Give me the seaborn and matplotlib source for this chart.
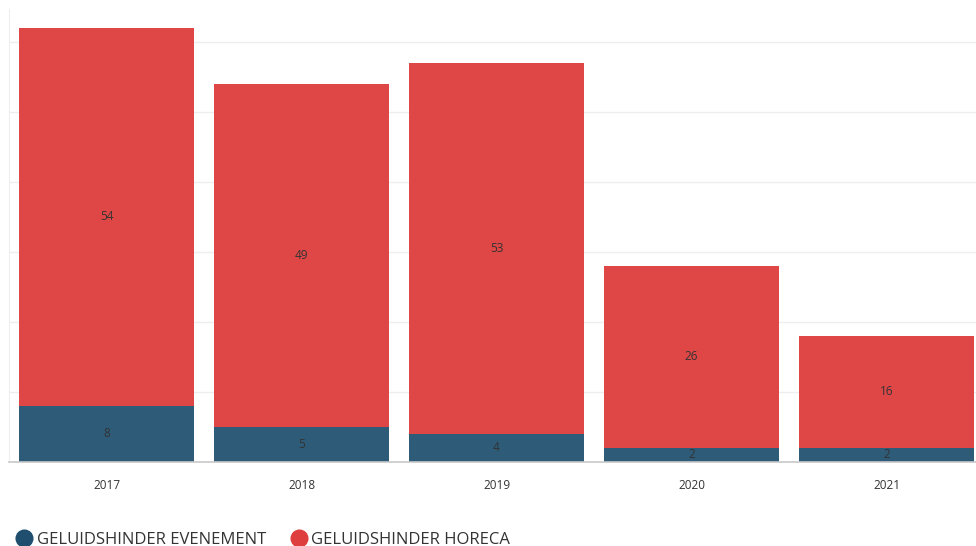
import pandas as pd
import matplotlib.pyplot as plt
import seaborn as sns
from matplotlib.lines import Line2D

# Data
years = ['2017', '2018', '2019', '2020', '2021']
evenement = [8, 5, 4, 2, 2]
horeca = [54, 49, 53, 26, 16]

df = pd.DataFrame({'year': years, 'evenement': evenement, 'horeca': horeca})
df['total'] = df['evenement'] + df['horeca']

red = '#DF4646'
blue = '#2D5B78'

sns.set_style('white')
plt.rcParams['font.family'] = ['Open Sans', 'DejaVu Sans']

fig = plt.figure(figsize=(9.76, 5.46), dpi=100)
ax = fig.add_axes([9 / 976, (546 - 462) / 546, 975 / 976, 453 / 546])

# stacked bars: total in red, evenement on top of it in blue
sns.barplot(data=df, x='year', y='total', color=red, width=0.9, saturation=1,
            linewidth=0, ax=ax)
sns.barplot(data=df, x='year', y='evenement', color=blue, width=0.9, saturation=1,
            linewidth=0, ax=ax)

# segment labels
for i, row in df.iterrows():
    ax.text(i, row['evenement'] / 2, str(row['evenement']), ha='center', va='center',
            fontsize=8.5, color='#333333')
    ax.text(i, row['evenement'] + row['horeca'] / 2, str(row['horeca']), ha='center',
            va='center', fontsize=8.5, color='#333333')

ax.set_xlim(-0.5, 4.5)
ax.set_ylim(0, 64.7)
ax.set_yticks([10, 20, 30, 40, 50, 60])
ax.set_yticklabels([])
ax.yaxis.grid(True, color='#EEEEEE', linewidth=1)
ax.set_axisbelow(True)
ax.tick_params(axis='x', length=0, pad=12, labelsize=8.5, labelcolor='#333333')
ax.tick_params(axis='y', length=0)
ax.set_xlabel('')
ax.set_ylabel('')
for side in ['top', 'right']:
    ax.spines[side].set_visible(False)
ax.spines['left'].set_color('#EEEEEE')
ax.spines['bottom'].set_color('#C8C8C8')
ax.spines['bottom'].set_linewidth(1.2)

handles = [
    Line2D([], [], marker='o', linestyle='', markersize=12, color='#1F4E6E', label='GELUIDSHINDER EVENEMENT'),
    Line2D([], [], marker='o', linestyle='', markersize=12, color='#DF3E3E', label='GELUIDSHINDER HORECA'),
]
fig.legend(handles=handles, loc='lower left', bbox_to_anchor=(0.007, -0.012), ncol=2, frameon=False,
           fontsize=12, handletextpad=0.0, columnspacing=1.2, labelcolor='#333333',
           borderpad=0.3, borderaxespad=0, handlelength=1.5)

fig.savefig('out.png', dpi=100)
